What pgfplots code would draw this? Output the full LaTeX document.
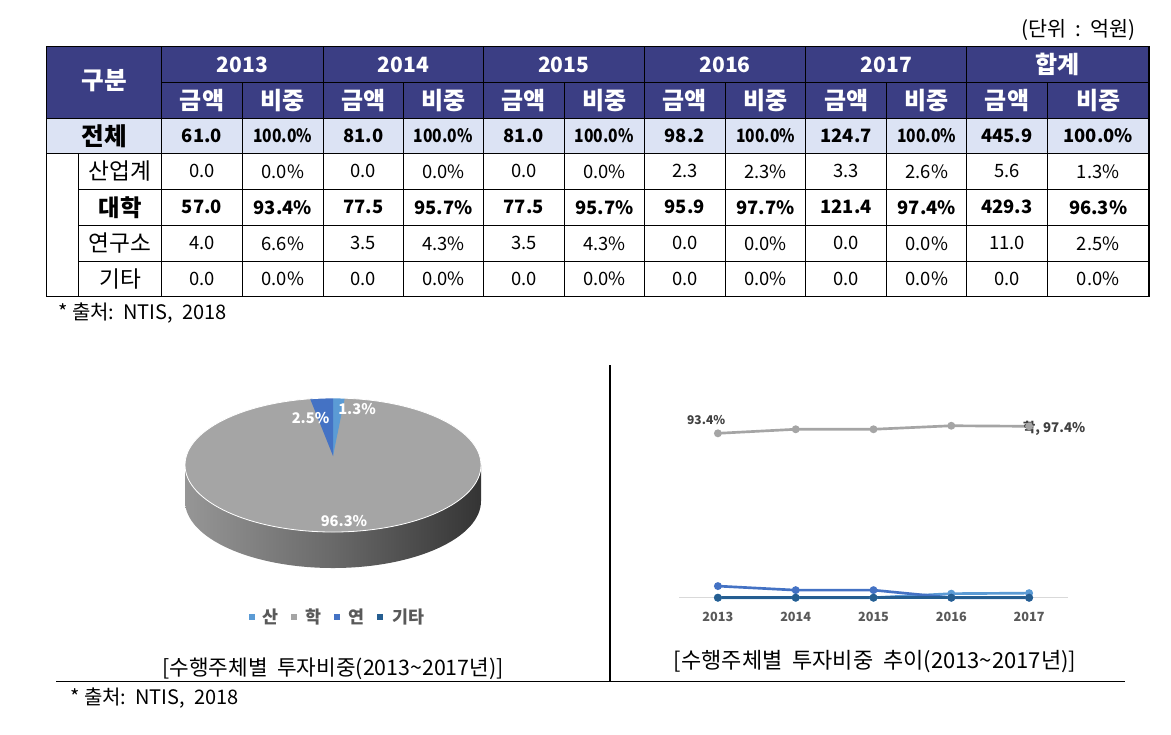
\documentclass[border=0pt]{standalone}
\usepackage{fontspec}
\setmainfont{Noto Sans CJK KR}
\usepackage{graphicx}
\usepackage{pgfplots}
\pgfplotsset{compat=1.18}

\definecolor{hdr}{RGB}{59,62,132}
\definecolor{tot}{RGB}{220,227,244}
\definecolor{cSan}{RGB}{91,155,213}
\definecolor{cHak}{RGB}{165,165,165}
\definecolor{cYeon}{RGB}{68,114,196}
\definecolor{cGita}{RGB}{37,94,145}
\definecolor{txtGray}{RGB}{89,89,89}
\definecolor{lblGray}{RGB}{64,64,64}
\definecolor{axGray}{RGB}{217,217,217}
\definecolor{sideL}{RGB}{150,150,150}
\definecolor{sideM}{RGB}{105,105,105}
\definecolor{sideR}{RGB}{52,52,52}

\newcommand\fsz[1]{\fontsize{#1}{#1}\selectfont}
\newcommand\sq{\scalebox{0.85}[1]{100.0\%}}
\def\colx{{202,282.8,363.3,443.3,523.8,604.3,684.8,765.5,846.2,926.7,1007,1098.2}}
\newcommand\datarow[3]{%
  \foreach \v [count=\i from 0] in {#3} {%
    \pgfmathsetmacro\cx{\colx[\i]}%
    \node[font=#2] at (\cx,#1) {\v};}}

\begin{document}
\begin{tikzpicture}
\pgfmathsetmacro\angS{360*5.6/445.9}
\pgfmathsetmacro\angY{360*11.0/445.9}
\pgfmathsetmacro\aSa{90-\angS}
\pgfmathsetmacro\aYb{90+\angY}

\begin{scope}[x=0.75pt,y=-0.75pt]
\fill[white] (0,0) rectangle (1171,735);
% ---- table ----
\fill[hdr] (46.7,46.7) rectangle (1149,118.3);
\fill[tot] (46.7,118.3) rectangle (1149,153.3);
\begin{scope}[line width=0.9pt, black]
\draw (46.7,46.7) rectangle (1149,296.7);
\draw (161.7,82.3) -- (1149,82.3);
\draw (46.7,118.3) -- (1149,118.3);
\draw (46.7,153.3) -- (1149,153.3);
\foreach \y in {189.3,225.3,261.3} \draw (78.3,\y) -- (1149,\y);
\foreach \x in {161.7,323.3,483.3,644.3,805.7,966.7} \draw (\x,46.7) -- (\x,296.7);
\foreach \x in {242.3,403.3,564.3,725.3,886.7,1047.3} \draw (\x,82.3) -- (\x,296.7);
\draw (78.3,153.3) -- (78.3,296.7);
\end{scope}
\node[font=\fsz{15.5pt}, anchor=east, inner sep=0pt] at (1136,30) {(단위\ \ :\ \ 억원)};
\node[white, font=\bfseries\fsz{18.5pt}] at (104.2,81) {구분};
\foreach \x/\t in {242.5/2013,403.3/2014,563.8/2015,725/2016,886.2/2017}
  \node[white, font=\bfseries\fsz{15.8pt}] at (\x,64.5) {\t};
\node[white, font=\bfseries\fsz{18pt}] at (1057.8,64.5) {합계};
\datarow{100.3}{\bfseries\fsz{18pt}\color{white}}{금액,비중,금액,비중,금액,비중,금액,비중,금액,비중,금액,비중}
\node[font=\bfseries\fsz{18.5pt}] at (104.2,135.8) {전체};
\datarow{135.8}{\bfseries\fsz{13.8pt}}{61.0,\sq,81.0,\sq,81.0,\sq,98.2,\sq,124.7,\sq,445.9,100.0\%}
\node[font=\fsz{17pt}] at (120,171.3) {산업계};
\datarow{171.3}{\fsz{13.8pt}}{0.0,0.0\%,0.0,0.0\%,0.0,0.0\%,2.3,2.3\%,3.3,2.6\%,5.6,1.3\%}
\node[font=\bfseries\fsz{17.5pt}] at (120,207.3) {대학};
\datarow{207.3}{\bfseries\fsz{13.8pt}}{57.0,93.4\%,77.5,95.7\%,77.5,95.7\%,95.9,97.7\%,121.4,97.4\%,429.3,96.3\%}
\node[font=\fsz{17pt}] at (120,243.3) {연구소};
\datarow{243.3}{\fsz{13.8pt}}{4.0,6.6\%,3.5,4.3\%,3.5,4.3\%,0.0,0.0\%,0.0,0.0\%,11.0,2.5\%}
\node[font=\fsz{17pt}] at (120,279) {기타};
\datarow{279}{\fsz{13.8pt}}{0.0,0.0\%,0.0,0.0\%,0.0,0.0\%,0.0,0.0\%,0.0,0.0\%,0.0,0.0\%}
\node[font=\fsz{15pt}, anchor=west, inner sep=0pt] at (58,313) {*\ 출처:\ \ NTIS,\ \ 2018};
% ---- lower frame ----
\draw[line width=0.8pt] (610,365) -- (610,681.7);
\draw[line width=0.8pt] (56,681.7) -- (1125,681.7);
\node[font=\fsz{16pt}] at (333,669) {[수행주체별\ \ 투자비중(2013\textasciitilde 2017년)]};
\node[font=\fsz{16.5pt}] at (875,662) {[수행주체별\ \ 투자비중\ \ 추이(2013\textasciitilde 2017년)]};
\node[font=\fsz{15pt}, anchor=west, inner sep=0pt] at (70,698) {*\ 출처:\ \ NTIS,\ \ 2018};
\end{scope}

% ---- pie (canvas axis in pixel units) ----
\begin{axis}[at={(0pt,0pt)}, anchor=north west, width=878.25pt, height=551.25pt,
  scale only axis, xmin=0, xmax=1171, ymin=0, ymax=735, y dir=reverse,
  hide axis, clip=false]
\shade[left color=sideL, right color=sideR, middle color=sideM]
  (axis cs:185,465) -- (axis cs:185,501)
  arc[start angle=180, end angle=360, x radius=111pt, y radius=50.25pt]
  -- (axis cs:481,465)
  arc[start angle=0, end angle=-180, x radius=111pt, y radius=50.25pt] -- cycle;
\fill[cHak] (axis cs:333,465) ellipse [x radius=111pt, y radius=50.25pt];
\fill[cSan] (axis cs:333,465) ++(\aSa:111pt and 50.25pt)
  arc[start angle=\aSa, end angle=90, x radius=111pt, y radius=50.25pt]
  -- (axis cs:333,456) -- cycle;
\fill[cYeon] (axis cs:333,465) ++(90:111pt and 50.25pt)
  arc[start angle=90, end angle=\aYb, x radius=111pt, y radius=50.25pt]
  -- (axis cs:333,456) -- cycle;
\draw[white, line width=0.6pt] (axis cs:333,465) ellipse [x radius=111pt, y radius=50.25pt];
\node[white, font=\bfseries\fsz{11pt}] at (axis cs:310.5,418) {2.5\%};
\node[white, font=\bfseries\fsz{11pt}] at (axis cs:357,409) {1.3\%};
\node[white, font=\bfseries\fsz{11pt}] at (axis cs:344,521.5) {96.3\%};
% legend
\fill[cSan] (axis cs:249,614) rectangle (axis cs:255,620);
\fill[cHak] (axis cs:291,614) rectangle (axis cs:297,620);
\fill[cYeon] (axis cs:334,614) rectangle (axis cs:340,620);
\fill[cGita] (axis cs:377,614) rectangle (axis cs:383,620);
\node[txtGray, font=\bfseries\fsz{13pt}] at (axis cs:270,617) {산};
\node[txtGray, font=\bfseries\fsz{13pt}] at (axis cs:313,617) {학};
\node[txtGray, font=\bfseries\fsz{13pt}] at (axis cs:356,617) {연};
\node[txtGray, font=\bfseries\fsz{13pt}] at (axis cs:408,617) {기타};
\end{axis}

% ---- line chart ----
\begin{axis}[at={(509.25pt,-448.275pt)}, anchor=south west,
  width=291.75pt, height=132pt, scale only axis,
  xmin=-0.5, xmax=4.5, ymin=0, ymax=100,
  axis y line=none, axis x line=bottom,
  x axis line style={draw=axGray, line width=0.7pt, -},
  ytick=\empty, xtick={0,1,2,3,4},
  xticklabels={2013,2014,2015,2016,2017},
  major tick length=0pt,
  xticklabel style={font=\bfseries\fsz{9.5pt}, text=txtGray, yshift=-7.5pt},
  clip=false]
\addplot[cSan, line width=2pt, mark=*, mark size=1.9pt] coordinates {(0,0) (1,0) (2,0) (3,2.3) (4,2.6)};
\addplot[cHak, line width=2pt, mark=*, mark size=1.9pt] coordinates {(0,93.4) (1,95.7) (2,95.7) (3,97.7) (4,97.4)};
\addplot[cYeon, line width=2pt, mark=*, mark size=1.9pt] coordinates {(0,6.6) (1,4.3) (2,4.3) (3,0) (4,0)};
\addplot[cGita, line width=2pt, mark=*, mark size=1.9pt] coordinates {(0,0) (1,0) (2,0) (3,0) (4,0)};
\node[lblGray, font=\bfseries\fsz{9pt}] at (axis cs:0,93.4) [xshift=-8.8pt, yshift=10pt] {93.4\%};
\node[lblGray, font=\bfseries\fsz{10pt}, anchor=west, inner sep=0pt] at (axis cs:4,97.4) [xshift=-4.7pt, yshift=-1.3pt] {학, 97.4\%};
\end{axis}

\pgfresetboundingbox
\path (0pt,0pt) rectangle (878.25pt,-551.25pt);
\end{tikzpicture}
\end{document}
